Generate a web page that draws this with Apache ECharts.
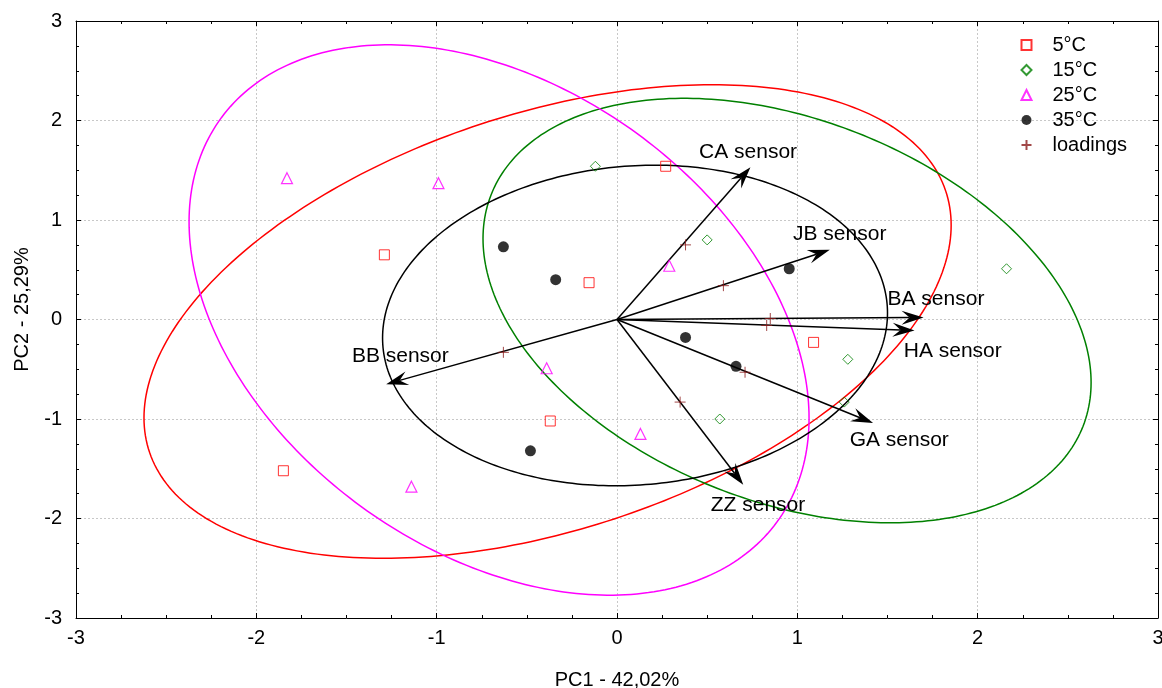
<!DOCTYPE html>
<html><head><meta charset="utf-8">
<script src="https://cdn.jsdelivr.net/npm/echarts@6/dist/echarts.min.js"></script>
<style>html,body{margin:0;padding:0;background:#fff}#c{width:1162px;height:688px}</style>
</head><body><div id="c"></div>
<script>
// ---- data ----
const xTicks = [-3, -2, -1, 0, 1, 2, 3];
const yTicks = [-3, -2, -1, 0, 1, 2, 3];
const groupNames = ['5°C', '15°C', '25°C', '35°C', 'loadings'];
const pts5  = [[0.27, 1.54], [-1.29, 0.65], [-0.155, 0.37], [1.09, -0.23], [-0.37, -1.02], [-1.85, -1.52]];
const pts15 = [[-0.12, 1.54], [0.50, 0.80], [2.16, 0.51], [1.28, -0.40], [1.26, -0.83], [0.57, -1.00]];
const pts25 = [[-1.83, 1.42], [-0.99, 1.37], [0.29, 0.54], [-0.39, -0.49], [0.13, -1.15], [-1.14, -1.68]];
const pts35 = [[-0.63, 0.73], [-0.34, 0.40], [0.955, 0.51], [0.38, -0.18], [0.66, -0.47], [-0.48, -1.32]];
const loadings = [[0.38, 0.75], [0.59, 0.34], [0.85, 0.01], [0.83, -0.06], [0.71, -0.53], [0.35, -0.83], [-0.63, -0.33]];
const sensorNames = ['CA sensor', 'JB sensor', 'BA sensor', 'HA sensor', 'GA sensor', 'ZZ sensor', 'BB sensor'];
const arrowTips = [[0.74, 1.53], [1.18, 0.70], [1.70, 0.02], [1.65, -0.11], [1.42, -1.04], [0.70, -1.66], [-1.28, -0.65]];
const labelAnchors = [[0.455, 1.68], [0.976, 0.86], [1.50, 0.20], [1.59, -0.32], [1.29, -1.21], [0.52, -1.87], [-1.47, -0.37]];
// confidence ellipses: [centerX, centerY, sdX, sdY, correlation]
const ellipseParams = [
  [-0.385, -0.02, 2.238, 2.38, 0.407],
  [0.943, 0.09, 1.686, 2.133, -0.339],
  [-0.654, -0.005, 1.719, 2.766, -0.357],
  [0.10, -0.06, 1.40, 1.611, 0.078]
];

// ---- styles ----
const FONT = "'Liberation Sans', Arial, sans-serif";
const colors = ['#ff0000', '#008000', '#ff00ff', '#000000', '#8b1a1a'];

function renderEllipse(params, api) {
  const cx = api.value(0), cy = api.value(1), sx = api.value(2), sy = api.value(3), r = api.value(4);
  const k = Math.sqrt(1 - r * r);
  const pts = [];
  const n = 300;
  for (let i = 0; i <= n; i++) {
    const t = 2 * Math.PI * i / n;
    pts.push(api.coord([cx + sx * Math.cos(t), cy + sy * (r * Math.cos(t) + k * Math.sin(t))]));
  }
  return { type: 'polyline', shape: { points: pts }, style: { fill: 'none', stroke: colors[params.dataIndex], lineWidth: 1.5 } };
}

function renderArrow(params, api) {
  const s = api.coord([0, 0]);
  const e = api.coord([api.value(0), api.value(1)]);
  const dx = e[0] - s[0], dy = e[1] - s[1];
  const len = Math.hypot(dx, dy);
  const ux = dx / len, uy = dy / len, nx = -uy, ny = ux;
  const L = 22, W = 7, N = 14;
  const b = [e[0] - ux * L, e[1] - uy * L];
  const m = [e[0] - ux * N, e[1] - uy * N];
  return { type: 'group', children: [
    { type: 'line', shape: { x1: s[0], y1: s[1], x2: m[0], y2: m[1] }, style: { stroke: '#000', lineWidth: 1.5 } },
    { type: 'polygon', shape: { points: [e, [b[0] + nx * W, b[1] + ny * W], m, [b[0] - nx * W, b[1] - ny * W]] }, style: { fill: '#000' } }
  ] };
}

function renderLabel(params, api) {
  const p = api.coord([api.value(0), api.value(1)]);
  return { type: 'text', x: p[0], y: p[1], style: { text: sensorNames[params.dataIndex], fill: '#000', font: '21px ' + FONT, textAlign: 'left', textVerticalAlign: 'middle' } };
}

const axisCommon = {
  type: 'value', min: xTicks[0], max: xTicks[xTicks.length - 1], interval: 1,
  axisLine: { show: true, onZero: false, lineStyle: { color: '#000', width: 1 } },
  axisTick: { show: true, inside: true, length: 5, lineStyle: { color: '#000' } },
  minorTick: { show: true, splitNumber: 4, length: 3, lineStyle: { color: '#000' } }
};

const chart = echarts.init(document.getElementById('c'), null, { renderer: 'canvas' });
chart.setOption({
  animation: false,
  backgroundColor: '#fff',
  grid: { left: 76, right: 4, top: 21, bottom: 70, containLabel: false, outerBoundsMode: 'none' },
  legend: {
    orient: 'vertical', left: 1014, top: 30, itemWidth: 10, itemHeight: 10, itemGap: 5,
    textStyle: { fontSize: 20, fontFamily: FONT, color: '#000', padding: [0, 0, 0, 16] },
    data: groupNames
  },
  xAxis: [
    Object.assign({}, axisCommon, {
      position: 'bottom',
      splitLine: { show: true, lineStyle: { color: '#c8c8c8', type: [2, 2], width: 1 } },
      axisLabel: { color: '#000', fontSize: 20, fontFamily: FONT, margin: 10 },
      name: 'PC1 - 42,02%', nameLocation: 'middle', nameGap: 52,
      nameTextStyle: { color: '#000', fontSize: 20, fontFamily: FONT }
    }),
    Object.assign({}, axisCommon, { position: 'top', splitLine: { show: false }, axisLabel: { show: false } })
  ],
  yAxis: [
    Object.assign({}, axisCommon, {
      min: yTicks[0], max: yTicks[yTicks.length - 1],
      position: 'left',
      splitLine: { show: true, lineStyle: { color: '#c8c8c8', type: [2, 2], width: 1 } },
      axisLabel: { color: '#000', fontSize: 20, fontFamily: FONT, margin: 14 },
      name: 'PC2 - 25,29%', nameLocation: 'middle', nameGap: 44,
      nameTextStyle: { color: '#000', fontSize: 20, fontFamily: FONT, padding: [0, 0, 0, 20] }
    }),
    Object.assign({}, axisCommon, { min: yTicks[0], max: yTicks[yTicks.length - 1], position: 'right', splitLine: { show: false }, axisLabel: { show: false } })
  ],
  series: [
    { type: 'custom', name: 'ellipses', renderItem: renderEllipse, data: ellipseParams, encode: { x: 0, y: 1 }, z: 1, silent: true, clip: true },
    { type: 'custom', name: 'arrows', renderItem: renderArrow, data: arrowTips, encode: { x: 0, y: 1 }, z: 2, silent: true },
    { type: 'custom', name: 'labels', renderItem: renderLabel, data: labelAnchors, encode: { x: 0, y: 1 }, z: 4, silent: true },
    { type: 'scatter', name: groupNames[0], data: pts5, symbol: 'rect', symbolSize: 10, z: 3,
      itemStyle: { color: 'rgba(255,255,255,0)', borderColor: colors[0], borderWidth: 1 } },
    { type: 'scatter', name: groupNames[1], data: pts15, symbol: 'diamond', symbolSize: 10, z: 3,
      itemStyle: { color: 'rgba(255,255,255,0)', borderColor: colors[1], borderWidth: 1 } },
    { type: 'scatter', name: groupNames[2], data: pts25, symbol: 'triangle', symbolSize: [11, 11], z: 3,
      itemStyle: { color: 'rgba(255,255,255,0)', borderColor: colors[2], borderWidth: 1.2 } },
    { type: 'scatter', name: groupNames[3], data: pts35, symbol: 'circle', symbolSize: 11, z: 3,
      itemStyle: { color: colors[3] } },
    { type: 'scatter', name: groupNames[4], data: loadings, symbol: 'path://M0,5L10,5M5,0L5,10', symbolSize: 11, z: 3,
      itemStyle: { color: 'none', borderColor: colors[4], borderWidth: 1 } }
  ]
});
</script>
</body></html>
